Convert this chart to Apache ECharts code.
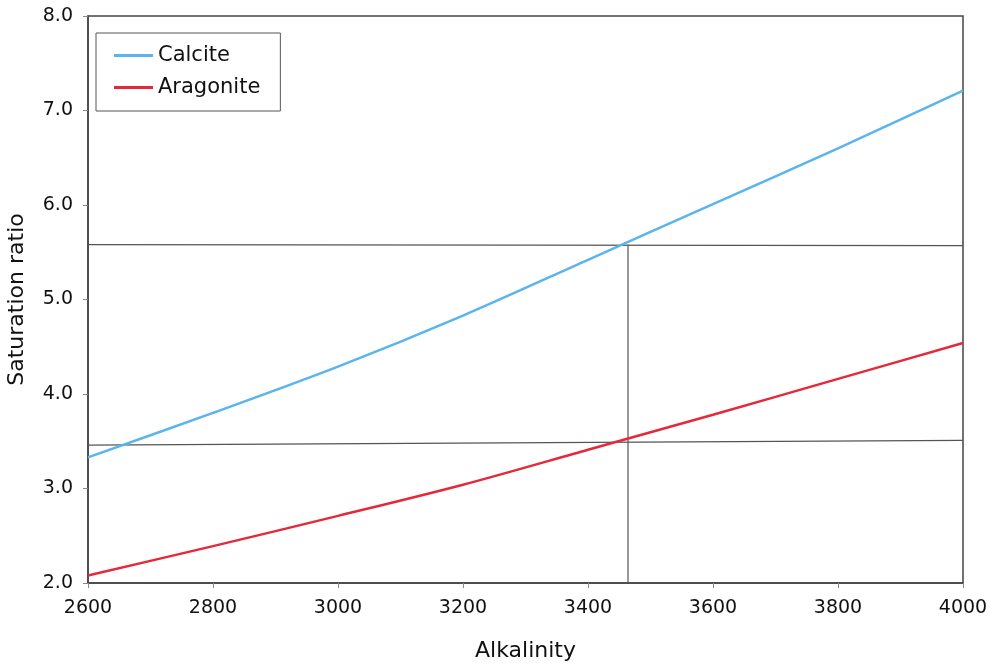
<!DOCTYPE html>
<html><head><meta charset="utf-8">
<script src="https://cdn.jsdelivr.net/npm/echarts@6/dist/echarts.min.js"></script>
<style>html,body{margin:0;padding:0;background:#fff}#c{width:989px;height:664px}</style>
</head><body><div id="c"></div>
<script>
var alkalinity = [2600, 2800, 3000, 3200, 3400, 3600, 3800, 4000];
var calcite    = [3.33, 3.80, 4.29, 4.83, 5.42, 6.01, 6.60, 7.21];
var aragonite  = [2.08, 2.39, 2.71, 3.04, 3.41, 3.78, 4.16, 4.54];
var upperRef   = [[2600, 5.58], [4000, 5.57]];
var lowerRef   = [[2600, 3.46], [4000, 3.51]];
var verticalRef = [[3464, 2.0], [3464, 5.58]];

function pairs(xs, ys){ return xs.map(function(x,i){return [x, ys[i]];}); }
var font = 'DejaVu Sans';
var refStyle = {color:'#555', width:1.2};
var chart = echarts.init(document.getElementById('c'));
chart.setOption({
  animation:false,
  textStyle:{fontFamily:font},
  grid:{left:88, top:16, right:26, bottom:81, show:true, borderColor:'#444', borderWidth:1.5, containLabel:false, outerBoundsMode:'none'},
  legend:{
    orient:'vertical', left:96, top:33, data:['Calcite','Aragonite'],
    backgroundColor:'#fff', borderColor:'#555', borderWidth:1, padding:[12,20,13,18],
    itemWidth:39, itemHeight:3, itemGap:11, icon:'rect',
    textStyle:{fontFamily:font, fontSize:21, color:'#111'}
  },
  xAxis:{type:'value', min:2600, max:4000, interval:200, name:'Alkalinity', nameLocation:'middle', nameGap:57,
    nameTextStyle:{fontSize:22, color:'#111', fontFamily:font},
    axisLine:{lineStyle:{color:'#444', width:1.5}}, axisTick:{length:5, lineStyle:{color:'#888'}},
    splitLine:{show:false}, axisLabel:{fontSize:19, color:'#111', margin:16, formatter:function(v){return String(v);}}},
  yAxis:{type:'value', min:2, max:8, interval:1, name:'Saturation ratio', nameLocation:'middle', nameGap:60,
    nameTextStyle:{fontSize:22, color:'#111', fontFamily:font},
    axisLine:{show:true, lineStyle:{color:'#444', width:1.5}}, axisTick:{show:true, length:5, lineStyle:{color:'#888'}},
    splitLine:{show:false}, axisLabel:{fontSize:19, color:'#111', margin:15, formatter:function(v){return v.toFixed(1);}}},
  series:[
    {name:'upper', type:'line', data:upperRef, symbol:'none', lineStyle:refStyle, silent:true, z:1},
    {name:'lower', type:'line', data:lowerRef, symbol:'none', lineStyle:refStyle, silent:true, z:1},
    {name:'vertical', type:'line', data:verticalRef, symbol:'none', lineStyle:refStyle, silent:true, z:1},
    {name:'Calcite', type:'line', data:pairs(alkalinity, calcite), smooth:0.3, symbol:'none', color:'#5bb4ec', lineStyle:{width:2.5}, z:3},
    {name:'Aragonite', type:'line', data:pairs(alkalinity, aragonite), smooth:0.3, symbol:'none', color:'#e5283a', lineStyle:{width:2.5}, z:3}
  ]
});
</script></body></html>
